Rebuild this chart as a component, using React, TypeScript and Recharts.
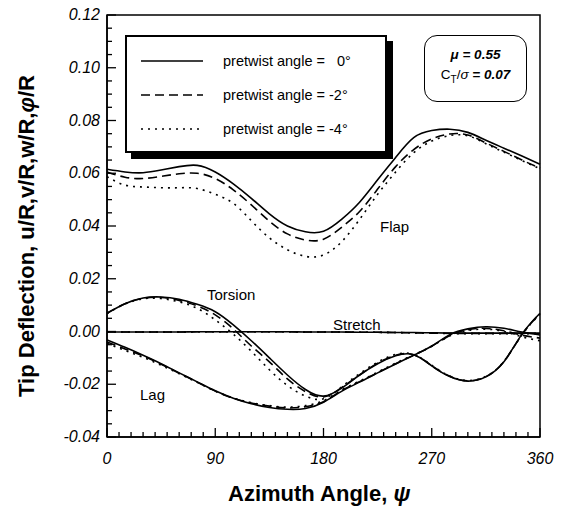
import { LineChart, Line, XAxis, YAxis, ReferenceArea } from "recharts";

// azimuth angle, degrees
const DEG = [0, 15, 30, 45, 60, 75, 90, 105, 120, 135, 150, 165, 180, 195, 210, 225, 240, 255, 270, 285, 300, 315, 330, 345, 360];

// Flap
const FLAP_0 = [0.0615, 0.0605, 0.0602, 0.0612, 0.0625, 0.063, 0.0605, 0.056, 0.0505, 0.0446, 0.04, 0.0378, 0.038, 0.0425, 0.049, 0.0575, 0.066, 0.0735, 0.0762, 0.0767, 0.0755, 0.0725, 0.0695, 0.0665, 0.0634];
const FLAP_2 = [0.0605, 0.0585, 0.058, 0.0588, 0.0598, 0.06, 0.058, 0.0537, 0.048, 0.0418, 0.037, 0.0347, 0.035, 0.0395, 0.0455, 0.054, 0.0625, 0.069, 0.073, 0.0749, 0.0745, 0.0715, 0.0683, 0.065, 0.0619];
const FLAP_4 = [0.0587, 0.0555, 0.0548, 0.0545, 0.0545, 0.0542, 0.052, 0.0486, 0.042, 0.0355, 0.031, 0.0285, 0.029, 0.034, 0.0425, 0.052, 0.0605, 0.0678, 0.0722, 0.0743, 0.0742, 0.0712, 0.068, 0.0648, 0.0617];

// Torsion
const TORSION_0 = [0.0069, 0.0105, 0.0127, 0.0131, 0.0122, 0.0103, 0.0075, 0.0025, -0.0035, -0.01, -0.0165, -0.022, -0.0245, -0.0215, -0.0165, -0.0122, -0.0092, -0.0088, -0.013, -0.0171, -0.0188, -0.0172, -0.0115, -0.001, 0.0069];
const TORSION_2 = [0.0069, 0.0105, 0.0126, 0.0129, 0.0118, 0.0097, 0.0063, 0.001, -0.0055, -0.0115, -0.018, -0.0228, -0.0248, -0.0213, -0.0165, -0.012, -0.009, -0.0088, -0.013, -0.017, -0.0187, -0.0171, -0.0114, -0.0012, 0.0068];
const TORSION_4 = [0.0068, 0.0104, 0.0124, 0.0125, 0.0112, 0.0088, 0.0044, -0.001, -0.0075, -0.0145, -0.0205, -0.0245, -0.0255, -0.021, -0.016, -0.0116, -0.0087, -0.0087, -0.0128, -0.0169, -0.0186, -0.017, -0.0113, -0.0013, 0.0066];

// Lag
const LAG_0 = [-0.0032, -0.006, -0.009, -0.0122, -0.0157, -0.0191, -0.0225, -0.0253, -0.0274, -0.0288, -0.0295, -0.0292, -0.0268, -0.0227, -0.0192, -0.0157, -0.0123, -0.009, -0.0055, -0.0012, 0.001, 0.0018, 0.0012, -0.0002, -0.0013];
const LAG_2 = [-0.004, -0.0066, -0.0093, -0.0124, -0.0158, -0.0192, -0.0226, -0.0253, -0.0271, -0.0283, -0.029, -0.0285, -0.0266, -0.0224, -0.019, -0.0156, -0.0122, -0.009, -0.0056, -0.0015, 0.0007, 0.0012, 0.0003, -0.0014, -0.0025];
const LAG_4 = [-0.0045, -0.0072, -0.0098, -0.0128, -0.016, -0.0193, -0.0226, -0.0252, -0.027, -0.0281, -0.0287, -0.0281, -0.0262, -0.0222, -0.0188, -0.0154, -0.012, -0.0088, -0.0056, -0.0017, 0.0004, 0.0009, 0.0, -0.002, -0.0035];

// Stretch
const STRETCH_0 = [-0.0002, -0.0002, -0.0002, -0.0002, -0.0002, -0.0001, -0.0001, -0.0001, -0.0001, -0.0001, -0.0001, -0.0002, -0.0002, -0.0002, -0.0003, -0.0003, -0.0004, -0.0004, -0.0005, -0.0006, -0.0006, -0.0006, -0.0006, -0.0006, -0.0006];
const STRETCH_2 = [-0.0002, -0.0002, -0.0002, -0.0002, -0.0002, -0.0001, -0.0001, -0.0001, -0.0001, -0.0001, -0.0001, -0.0002, -0.0002, -0.0002, -0.0003, -0.0003, -0.0004, -0.0005, -0.0006, -0.0007, -0.0007, -0.0007, -0.0007, -0.0007, -0.0007];
const STRETCH_4 = [-0.0002, -0.0002, -0.0002, -0.0002, -0.0002, -0.0001, -0.0001, -0.0001, -0.0001, -0.0001, -0.0001, -0.0002, -0.0002, -0.0002, -0.0003, -0.0003, -0.0004, -0.0005, -0.0006, -0.0008, -0.0008, -0.0008, -0.0008, -0.0008, -0.0008];

const X_TICKS = [0, 10, 20, 30, 40, 50, 60, 70, 80, 90, 100, 110, 120, 130, 140, 150, 160, 170, 180, 190, 200, 210, 220, 230, 240, 250, 260, 270, 280, 290, 300, 310, 320, 330, 340, 350, 360];
const Y_TICKS = [-0.04, -0.035, -0.03, -0.025, -0.02, -0.015, -0.01, -0.005, 0, 0.005, 0.01, 0.015, 0.02, 0.025, 0.03, 0.035, 0.04, 0.045, 0.05, 0.055, 0.06, 0.065, 0.07, 0.075, 0.08, 0.085, 0.09, 0.095, 0.1, 0.105, 0.11, 0.115, 0.12];

const LEGEND = [
  { label: "pretwist angle =   0°", dash: undefined },
  { label: "pretwist angle = -2°", dash: "9 5" },
  { label: "pretwist angle = -4°", dash: "2 5" },
];

const data = DEG.map((deg, i) => ({
  deg,
  flap0: FLAP_0[i], flap2: FLAP_2[i], flap4: FLAP_4[i],
  tors0: TORSION_0[i], tors2: TORSION_2[i], tors4: TORSION_4[i],
  lag0: LAG_0[i], lag2: LAG_2[i], lag4: LAG_4[i],
  str0: STRETCH_0[i], str2: STRETCH_2[i], str4: STRETCH_4[i],
}));

const DASHES = [undefined, "9 5", "2 5"];
const SERIES = ["flap", "tors", "lag", "str"];

const FONT = "'Liberation Sans', Arial, sans-serif";

const XTick = ({ x, y, payload }: any) => {
  const major = payload.value % 90 === 0;
  return (
    <g>
      <line x1={x} x2={x} y1={y} y2={y - (major ? 9 : 5)} stroke="#000" strokeWidth={1.3} />
      {major && (
        <text x={x} y={y + 27} textAnchor="middle" fontStyle="italic" fontSize={16} fill="#000" fontFamily={FONT}>
          {payload.value}
        </text>
      )}
    </g>
  );
};

const YTick = ({ x, y, payload }: any) => {
  const major = Math.round(payload.value * 1000) % 20 === 0;
  return (
    <g>
      <line x1={x} x2={x + (major ? 9 : 5)} y1={y} y2={y} stroke="#000" strokeWidth={1.3} />
      {major && (
        <text x={x - 7} y={y + 5} textAnchor="end" fontStyle="italic" fontSize={16} fill="#000" fontFamily={FONT}>
          {payload.value.toFixed(2)}
        </text>
      )}
    </g>
  );
};

export default function App() {
  return (
    <div style={{ position: "relative", width: 571, height: 514, background: "#fff", fontFamily: FONT }}>
      <style>{`body{margin:0}`}</style>
      <LineChart width={571} height={514} data={data} margin={{ top: 15, right: 31, bottom: 47, left: 47 }}>
        <XAxis
          type="number"
          dataKey="deg"
          domain={[0, 360]}
          ticks={X_TICKS}
          interval={0}
          height={30}
          tickSize={0}
          tickMargin={0}
          tickLine={false}
          axisLine={{ stroke: "#000", strokeWidth: 1.5 }}
          tick={<XTick />}
        />
        <YAxis
          type="number"
          domain={[-0.04, 0.12]}
          ticks={Y_TICKS}
          interval={0}
          width={60}
          tickSize={0}
          tickMargin={0}
          tickLine={false}
          axisLine={{ stroke: "#000", strokeWidth: 1.5 }}
          tick={<YTick />}
        />
        <ReferenceArea x1={0} x2={360} y1={-0.04} y2={0.12} fill="none" stroke="#000" strokeWidth={1.5} ifOverflow="visible" />
        {SERIES.flatMap((s) =>
          ["0", "2", "4"].map((p, j) => (
            <Line
              key={s + p}
              type="natural"
              dataKey={s + p}
              stroke="#000"
              strokeWidth={1.6}
              strokeDasharray={DASHES[j]}
              dot={false}
              isAnimationActive={false}
            />
          ))
        )}
      </LineChart>

      {/* legend */}
      <div style={{ position: "absolute", left: 125, top: 35, width: 258, height: 114, border: "2px solid #000", background: "#fff", boxShadow: "6px 6px 0 #000" }}>
        {LEGEND.map((l, i) => (
          <div key={i} style={{ position: "absolute", left: 0, top: 14 + i * 34, height: 20, width: 258, display: "flex", alignItems: "center" }}>
            <svg width={62} height={4} style={{ marginLeft: 14 }}>
              <line x1={0} x2={62} y1={2} y2={2} stroke="#000" strokeWidth={1.6} strokeDasharray={l.dash} />
            </svg>
            <span style={{ marginLeft: 20, fontSize: 14.5, whiteSpace: "pre" }}>{l.label}</span>
          </div>
        ))}
      </div>

      {/* parameters */}
      <div style={{ position: "absolute", left: 424, top: 35, width: 101, height: 65, border: "1.5px solid #000", borderRadius: 13, background: "#fff", textAlign: "center", fontSize: 13.5 }}>
        <div style={{ marginTop: 11, fontStyle: "italic", fontWeight: "bold" }}>μ = 0.55</div>
        <div style={{ marginTop: 5 }}>
          C<sub style={{ fontSize: 10 }}>T</sub>/<i>σ</i> <i style={{ fontWeight: "bold" }}>= 0.07</i>
        </div>
      </div>

      {/* curve labels */}
      <div style={{ position: "absolute", left: 380, top: 218, fontSize: 15 }}>Flap</div>
      <div style={{ position: "absolute", left: 207, top: 286, fontSize: 15 }}>Torsion</div>
      <div style={{ position: "absolute", left: 333, top: 316, fontSize: 15 }}>Stretch</div>
      <div style={{ position: "absolute", left: 140, top: 386, fontSize: 15 }}>Lag</div>

      {/* axis titles */}
      <div style={{ position: "absolute", left: 228, top: 481, fontSize: 22, fontWeight: "bold", whiteSpace: "nowrap" }}>
        Azimuth Angle, <i>ψ</i>
      </div>
      <div
        style={{
          position: "absolute",
          left: 27,
          top: 236,
          transform: "translate(-50%, -50%) rotate(-90deg)",
          fontSize: 22,
          fontWeight: "bold",
          whiteSpace: "nowrap",
        }}
      >
        Tip Deflection, u/R,v/R,w/R,<i>φ</i>/R
      </div>
    </div>
  );
}
